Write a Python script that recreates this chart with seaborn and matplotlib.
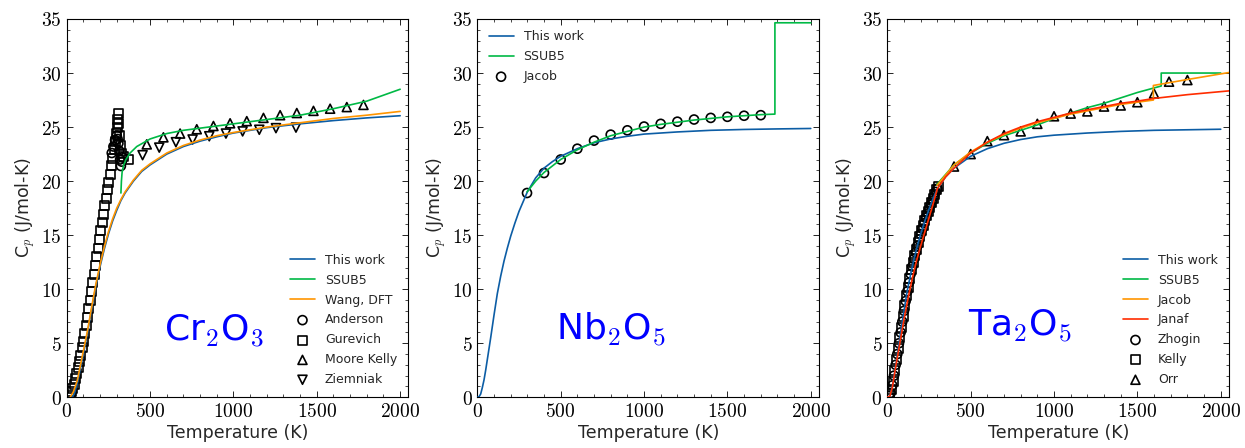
import matplotlib
matplotlib.use("Agg")
import matplotlib.pyplot as plt
import seaborn as sns
import numpy as np
from matplotlib.ticker import MultipleLocator, FuncFormatter

# ---------------- Cr2O3 ----------------
cr_this_T = [30, 45, 64, 80, 100, 125, 150, 175, 200, 225, 250, 275, 300, 325, 350, 400, 450, 500, 600, 700, 800, 900, 1000, 1200, 1400, 1600, 1800, 2000]
cr_this_Cp = [0.0, 0.3, 1.3, 2.5, 4.0, 6.0, 8.2, 10.3, 12.1, 13.7, 15.1, 16.3, 17.3, 18.2, 18.9, 20.0, 20.9, 21.5, 22.5, 23.2, 23.7, 24.1, 24.45, 24.95, 25.3, 25.6, 25.85, 26.05]
cr_wang_T = [20, 40, 64, 80, 100, 125, 150, 175, 200, 225, 250, 275, 300, 325, 350, 400, 450, 500, 600, 700, 800, 900, 1000, 1200, 1400, 1600, 1800, 2000]
cr_wang_Cp = [0.0, 0.5, 1.6, 2.8, 4.3, 6.2, 8.4, 10.5, 12.3, 13.9, 15.3, 16.5, 17.5, 18.3, 19.0, 20.1, 21.0, 21.6, 22.6, 23.3, 23.8, 24.2, 24.5, 25.0, 25.4, 25.8, 26.1, 26.45]
cr_ssub_T = [325, 328, 332, 340, 355, 380, 420, 500, 600, 700, 800, 1000, 1200, 1400, 1600, 1800, 2000]
cr_ssub_Cp = [18.9, 20.0, 20.8, 21.4, 22.0, 22.6, 23.2, 23.9, 24.4, 24.7, 24.9, 25.3, 25.7, 26.1, 26.7, 27.4, 28.5]
cr_anderson_T = [270, 280, 290, 300, 305, 310, 315, 320, 325, 330, 335]
cr_anderson_Cp = [22.6, 23.2, 23.8, 24.2, 23.9, 23.5, 22.8, 22.0, 21.4, 21.8, 22.2]
cr_gurevich_T = [20, 28, 36, 44, 52, 60, 68, 76, 84, 92, 100, 108, 116, 124, 132, 140, 148, 156, 164, 172, 180, 188, 196, 204, 212, 220, 228, 236, 244, 252, 260, 268, 276, 284, 292, 298, 302, 306, 309, 312, 316, 320, 326, 340, 372]
cr_gurevich_Cp = [0.2, 0.5, 0.8, 1.2, 1.7, 2.2, 2.8, 3.3, 3.9, 4.6, 5.2, 5.9, 6.6, 7.4, 8.2, 9.0, 9.8, 10.6, 11.4, 12.2, 13.0, 13.8, 14.6, 15.4, 16.2, 16.9, 17.7, 18.4, 19.2, 19.9, 20.6, 21.4, 22.1, 22.9, 23.7, 24.4, 25.0, 25.7, 26.3, 25.3, 24.2, 23.3, 22.6, 22.3, 22.0]
cr_moore_T = [480, 580, 680, 780, 880, 980, 1080, 1180, 1280, 1380, 1480, 1580, 1680, 1780]
cr_moore_Cp = [23.4, 24.05, 24.4, 24.8, 25.1, 25.35, 25.55, 25.85, 26.1, 26.3, 26.5, 26.7, 26.85, 27.05]
cr_ziem_T = [455, 555, 655, 755, 855, 955, 1055, 1155, 1255, 1375]
cr_ziem_Cp = [22.4, 23.1, 23.6, 23.85, 24.15, 24.4, 24.6, 24.75, 24.9, 24.95]

# ---------------- Nb2O5 ----------------
nb_this_T = [0, 10, 20, 30, 40, 50, 60, 70, 80, 100, 120, 140, 160, 180, 200, 225, 250, 275, 300, 350, 400, 450, 500, 600, 700, 800, 900, 1000, 1200, 1400, 1600, 1800, 2000]
nb_this_Cp = [0.0, 0.05, 0.3, 0.9, 1.6, 2.5, 3.5, 4.5, 5.5, 7.6, 9.6, 11.2, 12.6, 13.8, 14.9, 16.1, 17.2, 18.1, 19.0, 20.3, 21.2, 21.8, 22.3, 23.0, 23.55, 23.9, 24.15, 24.35, 24.55, 24.7, 24.78, 24.83, 24.87]
nb_ssub_T = [298, 350, 400, 500, 600, 700, 800, 900, 1000, 1100, 1200, 1300, 1400, 1500, 1600, 1700, 1785, 1785, 2000]
nb_ssub_Cp = [19.0, 20.0, 20.8, 22.0, 22.9, 23.6, 24.2, 24.6, 25.0, 25.25, 25.45, 25.65, 25.8, 25.95, 26.05, 26.15, 26.2, 34.65, 34.65]
nb_jacob_T = [298, 400, 500, 600, 700, 800, 900, 1000, 1100, 1200, 1300, 1400, 1500, 1600, 1700]
nb_jacob_Cp = [18.9, 20.75, 22.0, 23.0, 23.75, 24.3, 24.7, 25.05, 25.3, 25.5, 25.7, 25.85, 25.95, 26.05, 26.1]

# ---------------- Ta2O5 ----------------
ta_this_T = [0, 15, 30, 45, 60, 80, 100, 120, 140, 160, 180, 200, 225, 250, 275, 300, 350, 400, 500, 600, 700, 800, 900, 1000, 1200, 1400, 1600, 1800, 2000]
ta_this_Cp = [0.0, 0.1, 1.0, 2.4, 3.9, 6.0, 8.0, 9.9, 11.4, 12.8, 14.0, 15.1, 16.3, 17.4, 18.4, 19.3, 20.4, 21.2, 22.3, 23.0, 23.5, 23.85, 24.1, 24.25, 24.45, 24.6, 24.7, 24.75, 24.8]
ta_ssub_T = [298, 400, 500, 600, 700, 800, 900, 1000, 1100, 1200, 1300, 1400, 1500, 1643, 1643, 2000]
ta_ssub_Cp = [19.7, 21.5, 22.6, 23.5, 24.2, 24.7, 25.2, 25.8, 26.3, 26.8, 27.2, 27.7, 28.2, 28.8, 30.0, 30.0]
ta_jacob_T = [298, 400, 500, 600, 700, 800, 900, 1000, 1100, 1200, 1300, 1400, 1500, 1596, 1596, 1800, 2050]
ta_jacob_Cp = [19.6, 21.5, 22.7, 23.6, 24.3, 24.9, 25.4, 25.8, 26.2, 26.5, 26.8, 27.1, 27.3, 27.5, 28.85, 29.4, 30.05]
ta_janaf_T = [0, 15, 30, 50, 75, 100, 125, 150, 175, 200, 225, 250, 275, 300, 350, 400, 500, 600, 700, 800, 900, 1000, 1100, 1200, 1300, 1400, 1500, 1600, 1800, 2050]
ta_janaf_Cp = [0.0, 0.1, 0.9, 2.8, 5.0, 7.2, 9.2, 11.0, 12.6, 14.0, 15.3, 16.6, 17.9, 19.3, 20.4, 21.2, 22.6, 23.6, 24.4, 25.0, 25.5, 25.9, 26.3, 26.6, 26.9, 27.2, 27.4, 27.65, 28.0, 28.35]
ta_zhogin_T = [10, 20, 30, 40, 50, 60, 70, 80, 90, 100, 110, 120, 130, 140, 150, 160, 170, 180, 190, 200, 210, 220, 230, 240, 250, 260, 270, 280, 290, 300]
ta_zhogin_Cp = [0.1, 0.4, 1.1, 2.0, 3.0, 4.0, 5.0, 6.0, 7.0, 8.0, 8.9, 9.8, 10.6, 11.4, 12.1, 12.8, 13.4, 14.0, 14.6, 15.1, 15.6, 16.1, 16.6, 17.0, 17.4, 17.8, 18.2, 18.6, 19.0, 19.3]
ta_kelly_T = [15, 25, 35, 45, 55, 65, 75, 85, 95, 105, 115, 125, 135, 145, 155, 165, 175, 185, 195, 205, 215, 225, 235, 245, 255, 265, 275, 285, 295, 305]
ta_kelly_Cp = [0.2, 0.7, 1.5, 2.5, 3.5, 4.5, 5.5, 6.5, 7.5, 8.5, 9.4, 10.2, 11.0, 11.8, 12.5, 13.1, 13.7, 14.3, 14.9, 15.4, 15.9, 16.4, 16.8, 17.2, 17.6, 18.0, 18.4, 18.8, 19.2, 19.5]
ta_orr_T = [400, 500, 600, 700, 800, 900, 1000, 1100, 1200, 1300, 1400, 1500, 1600, 1690, 1800]
ta_orr_Cp = [21.35, 22.5, 23.7, 24.25, 24.6, 25.3, 26.0, 26.25, 26.45, 26.9, 27.0, 27.3, 28.1, 29.2, 29.35]

C_BLUE, C_GREEN, C_ORANGE, C_RED = "#0C5DA5", "#00B945", "#FF9500", "#FF2C00"

sns.set_theme(style="ticks")
plt.rcParams["font.family"] = ["DejaVu Sans"]
plt.rcParams["mathtext.fontset"] = "cm"
plt.rcParams.update({
    "xtick.direction": "in", "ytick.direction": "in",
    "xtick.top": True, "ytick.right": True,
    "xtick.minor.visible": True, "ytick.minor.visible": True,
    "xtick.major.size": 4, "ytick.major.size": 4,
    "xtick.minor.size": 2, "ytick.minor.size": 2,
    "xtick.major.width": 0.6, "ytick.major.width": 0.6,
    "xtick.minor.width": 0.5, "ytick.minor.width": 0.5,
    "axes.edgecolor": "black", "axes.linewidth": 0.8,
    "xtick.color": "black", "ytick.color": "black",
})

fig = plt.figure(figsize=(12.45, 4.48), dpi=100)
lefts = [0.0536, 0.3834, 0.7127]
axes = [fig.add_axes([l, 0.1132, 0.2745, 0.8444]) for l in lefts]

def line(ax, T, Cp, color, label):
    sns.lineplot(x=T, y=Cp, ax=ax, color=color, label=label, sort=False,
                 estimator=None, linewidth=1.2, zorder=3)

def pts(ax, T, Cp, marker, label, s=42):
    sns.scatterplot(x=T, y=Cp, ax=ax, marker=marker, s=s, facecolors="none",
                    edgecolors="black", linewidths=1.2, label=label, zorder=2)

fmt = FuncFormatter(lambda v, p: r"$%d$" % v)

def style(ax):
    ax.set_xlim(0, 2050)
    ax.set_ylim(0, 35)
    ax.xaxis.set_major_locator(MultipleLocator(500))
    ax.xaxis.set_minor_locator(MultipleLocator(100))
    ax.yaxis.set_major_locator(MultipleLocator(5))
    ax.yaxis.set_minor_locator(MultipleLocator(1))
    ax.xaxis.set_major_formatter(fmt)
    ax.yaxis.set_major_formatter(fmt)
    ax.tick_params(which="both", top=True, right=True, direction="in", labelsize=14)
    ax.set_xlabel("Temperature (K)", fontsize=12.5, labelpad=2)
    ax.set_ylabel(r"C$_p$ (J/mol-K)", fontsize=12.5, labelpad=2)
    for sp in ax.spines.values():
        sp.set_visible(True)
        sp.set_color("black")

# Panel 1
ax = axes[0]
line(ax, cr_this_T, cr_this_Cp, C_BLUE, "This work")
line(ax, cr_ssub_T, cr_ssub_Cp, C_GREEN, "SSUB5")
line(ax, cr_wang_T, cr_wang_Cp, C_ORANGE, "Wang, DFT")
pts(ax, cr_anderson_T, cr_anderson_Cp, "o", "Anderson")
pts(ax, cr_gurevich_T, cr_gurevich_Cp, "s", "Gurevich")
pts(ax, cr_moore_T, cr_moore_Cp, "^", "Moore Kelly")
pts(ax, cr_ziem_T, cr_ziem_Cp, "v", "Ziemniak")
style(ax)
ax.legend(loc="lower right", frameon=False, fontsize=9, handlelength=2.0, labelspacing=0.55)
ax.text(0.43, 0.175, r"Cr$_2$O$_3$", transform=ax.transAxes, color="blue",
        fontsize=26, ha="center", va="center")

# Panel 2
ax = axes[1]
line(ax, nb_this_T, nb_this_Cp, C_BLUE, "This work")
line(ax, nb_ssub_T, nb_ssub_Cp, C_GREEN, "SSUB5")
pts(ax, nb_jacob_T, nb_jacob_Cp, "o", "Jacob")
style(ax)
ax.legend(loc="upper left", frameon=False, fontsize=9, handlelength=2.0, labelspacing=0.55)
ax.text(0.39, 0.178, r"Nb$_2$O$_5$", transform=ax.transAxes, color="blue",
        fontsize=26, ha="center", va="center")

# Panel 3
ax = axes[2]
line(ax, ta_this_T, ta_this_Cp, C_BLUE, "This work")
line(ax, ta_ssub_T, ta_ssub_Cp, C_GREEN, "SSUB5")
line(ax, ta_jacob_T, ta_jacob_Cp, C_ORANGE, "Jacob")
line(ax, ta_janaf_T, ta_janaf_Cp, C_RED, "Janaf")
pts(ax, ta_zhogin_T, ta_zhogin_Cp, "o", "Zhogin")
pts(ax, ta_kelly_T, ta_kelly_Cp, "s", "Kelly")
pts(ax, ta_orr_T, ta_orr_Cp, "^", "Orr")
style(ax)
ax.legend(loc="lower right", frameon=False, fontsize=9, handlelength=2.0, labelspacing=0.55)
ax.text(0.39, 0.187, r"Ta$_2$O$_5$", transform=ax.transAxes, color="blue",
        fontsize=26, ha="center", va="center")

fig.savefig("out.png", dpi=100)
